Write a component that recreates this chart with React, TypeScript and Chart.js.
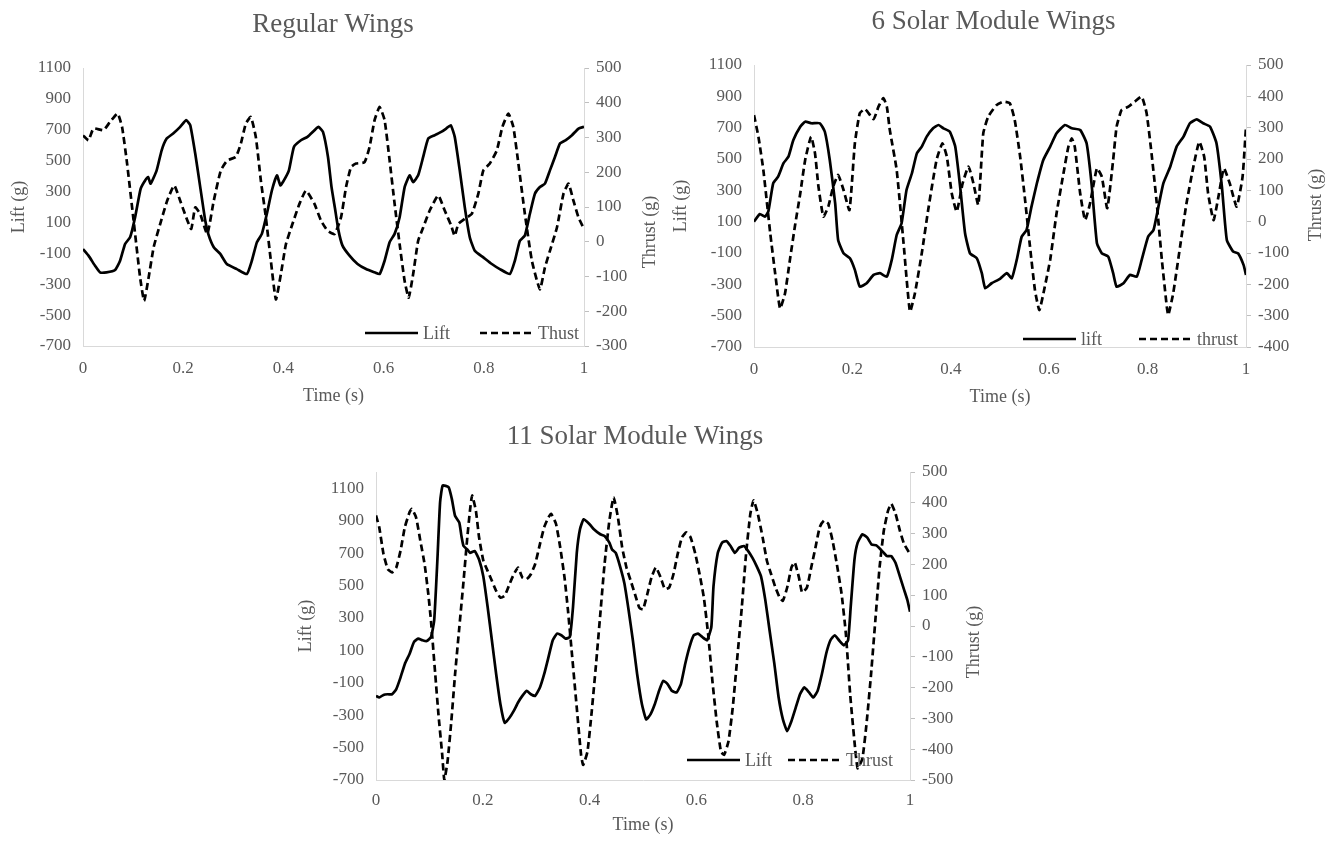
import { useEffect, useRef } from "react";
import { Chart, registerables } from "chart.js";

Chart.register(...registerables);

const FONT_FAMILY = '"Liberation Serif", "Times New Roman", Times, serif';
const TEXT_COLOR = "#595959";
const AXIS_COLOR = "#d9d9d9";
const TICK_MARK_COLOR = "#bfbfbf";
const TITLE_SIZE = 27;
const TICK_SIZE = 17;
const AXIS_TITLE_SIZE = 18;
const LEGEND_SIZE = 18;
const LEGEND_LINE = 53;

// ---------- axis ticks / labels ----------
const TIME_TICKS = [0, 0.2, 0.4, 0.6, 0.8, 1];
const TIME_TICK_LABELS = ["0", "0.2", "0.4", "0.6", "0.8", "1"];
const LIFT_TICKS = [-700, -500, -300, -100, 100, 300, 500, 700, 900, 1100];
const REG_THRUST_TICKS = [-300, -200, -100, 0, 100, 200, 300, 400, 500];
const SIX_THRUST_TICKS = [-400, -300, -200, -100, 0, 100, 200, 300, 400, 500];
const ELEVEN_THRUST_TICKS = [-500, -400, -300, -200, -100, 0, 100, 200, 300, 400, 500];

const CHART_TITLES = ["Regular Wings", "6 Solar Module Wings", "11 Solar Module Wings"];
const AXIS_TITLES = ["Time (s)", "Lift (g)", "Thrust (g)"];
const REG_LABELS = ["Lift", "Thust"];
const SIX_LABELS = ["lift", "thrust"];
const ELEVEN_LABELS = ["Lift", "Thrust"];

// ---------- Regular Wings ----------
const REG_LIFT_T = [0, 0.011, 0.024, 0.034, 0.047, 0.064, 0.074, 0.084, 0.094, 0.104, 0.115, 0.124, 0.13, 0.135, 0.147, 0.157, 0.167, 0.18, 0.194, 0.206, 0.214, 0.224, 0.234, 0.244, 0.25, 0.261, 0.274, 0.287, 0.307, 0.327, 0.337, 0.347, 0.357, 0.367, 0.377, 0.387, 0.394, 0.401, 0.411, 0.421, 0.435, 0.448, 0.462, 0.47, 0.479, 0.489, 0.496, 0.503, 0.51, 0.518, 0.532, 0.548, 0.565, 0.582, 0.592, 0.602, 0.612, 0.622, 0.632, 0.642, 0.652, 0.659, 0.669, 0.679, 0.689, 0.702, 0.715, 0.725, 0.734, 0.742, 0.752, 0.762, 0.772, 0.782, 0.799, 0.816, 0.832, 0.852, 0.862, 0.872, 0.882, 0.892, 0.902, 0.912, 0.922, 0.932, 0.942, 0.952, 0.963, 0.976, 0.989, 1.0];
const REG_LIFT = [-72, -115, -180, -223, -223, -208, -148, -39, 4, 134, 318, 372, 394, 351, 437, 567, 643, 676, 719, 762, 730, 546, 329, 112, 26, -61, -104, -169, -202, -234, -148, -29, 26, 156, 307, 405, 340, 372, 437, 589, 632, 654, 697, 719, 686, 524, 330, 190, 47, -50, -115, -169, -202, -223, -234, -148, -28, 26, 134, 329, 405, 361, 405, 524, 643, 665, 686, 708, 730, 654, 437, 199, 4, -83, -126, -169, -202, -234, -148, -18, 15, 156, 286, 329, 351, 437, 524, 611, 632, 665, 708, 719];
const REG_THRUST_T = [0, 0.011, 0.021, 0.041, 0.054, 0.069, 0.078, 0.088, 0.101, 0.114, 0.122, 0.131, 0.141, 0.154, 0.168, 0.182, 0.194, 0.206, 0.216, 0.224, 0.234, 0.248, 0.261, 0.275, 0.288, 0.305, 0.315, 0.325, 0.335, 0.345, 0.355, 0.365, 0.375, 0.385, 0.395, 0.405, 0.418, 0.432, 0.445, 0.462, 0.475, 0.488, 0.502, 0.515, 0.525, 0.535, 0.545, 0.562, 0.572, 0.582, 0.592, 0.602, 0.612, 0.622, 0.632, 0.642, 0.65, 0.659, 0.669, 0.679, 0.692, 0.709, 0.722, 0.735, 0.742, 0.749, 0.762, 0.776, 0.789, 0.799, 0.812, 0.826, 0.837, 0.849, 0.859, 0.869, 0.882, 0.896, 0.912, 0.922, 0.932, 0.946, 0.959, 0.969, 0.979, 0.989, 1.0];
const REG_THRUST = [306, 292, 326, 321, 345, 369, 330, 225, 61, -103, -170, -103, -16, 51, 118, 162, 118, 70, 37, 99, 80, 22, 118, 205, 234, 244, 282, 340, 359, 301, 176, 70, -55, -166, -93, -7, 51, 109, 147, 109, 61, 32, 22, 70, 157, 215, 225, 229, 273, 350, 388, 350, 234, 109, -7, -113, -161, -93, 3, 41, 90, 133, 90, 46, 17, 51, 66, 80, 138, 205, 225, 263, 330, 369, 330, 225, 80, -55, -137, -74, -26, 41, 138, 167, 118, 70, 37];

// ---------- 6 Solar Module Wings ----------
const SIX_LIFT_T = [0, 0.012, 0.022, 0.029, 0.039, 0.049, 0.06, 0.07, 0.08, 0.094, 0.104, 0.117, 0.134, 0.144, 0.154, 0.165, 0.171, 0.182, 0.195, 0.205, 0.215, 0.229, 0.243, 0.256, 0.27, 0.28, 0.29, 0.3, 0.31, 0.321, 0.331, 0.341, 0.351, 0.364, 0.375, 0.385, 0.398, 0.409, 0.419, 0.429, 0.439, 0.453, 0.463, 0.47, 0.483, 0.5, 0.514, 0.524, 0.534, 0.544, 0.554, 0.564, 0.575, 0.588, 0.602, 0.615, 0.632, 0.646, 0.663, 0.676, 0.686, 0.697, 0.707, 0.72, 0.73, 0.737, 0.751, 0.764, 0.778, 0.788, 0.801, 0.812, 0.822, 0.832, 0.846, 0.859, 0.873, 0.886, 0.9, 0.913, 0.927, 0.94, 0.951, 0.961, 0.974, 0.984, 0.995, 1.0];
const SIX_LIFT = [100, 149, 132, 164, 345, 387, 473, 515, 621, 706, 738, 728, 728, 674, 494, 217, -17, -102, -134, -208, -315, -293, -240, -229, -251, -144, 15, 90, 302, 409, 536, 579, 643, 696, 717, 696, 674, 579, 323, 26, -102, -134, -229, -325, -293, -265, -229, -261, -144, 4, 47, 196, 345, 494, 579, 664, 717, 696, 685, 600, 345, -38, -102, -123, -229, -315, -293, -240, -251, -144, 4, 47, 196, 345, 451, 579, 643, 728, 753, 728, 706, 600, 323, -17, -91, -102, -176, -240];
const SIX_THRUST_T = [0, 0.009, 0.019, 0.033, 0.043, 0.053, 0.063, 0.073, 0.083, 0.094, 0.104, 0.116, 0.124, 0.131, 0.141, 0.151, 0.161, 0.171, 0.182, 0.194, 0.205, 0.215, 0.226, 0.243, 0.253, 0.263, 0.27, 0.276, 0.29, 0.304, 0.317, 0.327, 0.341, 0.354, 0.371, 0.383, 0.392, 0.402, 0.412, 0.424, 0.436, 0.446, 0.456, 0.466, 0.476, 0.493, 0.507, 0.52, 0.53, 0.541, 0.551, 0.561, 0.571, 0.58, 0.591, 0.602, 0.615, 0.629, 0.639, 0.646, 0.652, 0.663, 0.673, 0.683, 0.697, 0.707, 0.718, 0.73, 0.737, 0.747, 0.761, 0.774, 0.788, 0.798, 0.808, 0.818, 0.829, 0.839, 0.842, 0.852, 0.866, 0.879, 0.893, 0.905, 0.915, 0.923, 0.934, 0.944, 0.955, 0.967, 0.981, 0.993, 1.0];
const SIX_THRUST = [340, 271, 165, -37, -165, -277, -229, -122, -16, 90, 197, 271, 218, 112, 16, 48, 112, 149, 101, 37, 250, 346, 359, 327, 367, 394, 367, 293, 165, -69, -287, -229, -101, 37, 197, 250, 207, 90, 32, 122, 176, 122, 53, 282, 335, 372, 383, 378, 324, 207, 69, -80, -218, -282, -208, -122, 27, 154, 239, 266, 239, 90, 5, 58, 170, 143, 43, 197, 303, 356, 367, 383, 399, 346, 218, 69, -122, -271, -298, -229, -80, 58, 175, 255, 207, 90, 5, 80, 170, 122, 48, 143, 303];

// ---------- 11 Solar Module Wings ----------
const ELEVEN_LIFT_T = [0, 0.006, 0.014, 0.022, 0.03, 0.038, 0.046, 0.054, 0.063, 0.071, 0.079, 0.087, 0.095, 0.103, 0.109, 0.115, 0.12, 0.125, 0.136, 0.142, 0.148, 0.156, 0.16, 0.164, 0.171, 0.176, 0.185, 0.193, 0.201, 0.209, 0.217, 0.225, 0.233, 0.241, 0.25, 0.258, 0.266, 0.274, 0.282, 0.29, 0.298, 0.307, 0.315, 0.323, 0.331, 0.339, 0.347, 0.355, 0.363, 0.369, 0.376, 0.382, 0.389, 0.4, 0.408, 0.42, 0.428, 0.437, 0.442, 0.449, 0.457, 0.465, 0.473, 0.481, 0.489, 0.498, 0.506, 0.514, 0.522, 0.53, 0.538, 0.546, 0.554, 0.563, 0.571, 0.579, 0.587, 0.595, 0.603, 0.611, 0.62, 0.628, 0.632, 0.64, 0.648, 0.656, 0.664, 0.672, 0.68, 0.689, 0.697, 0.705, 0.713, 0.721, 0.729, 0.737, 0.746, 0.754, 0.762, 0.77, 0.778, 0.786, 0.794, 0.802, 0.811, 0.819, 0.827, 0.835, 0.843, 0.851, 0.859, 0.867, 0.876, 0.884, 0.889, 0.896, 0.902, 0.911, 0.92, 0.928, 0.937, 0.945, 0.951, 0.957, 0.965, 0.973, 0.981, 0.989, 0.995, 1.0];
const ELEVEN_LIFT = [-181, -191, -175, -171, -171, -139, -67, 16, 79, 151, 172, 162, 157, 182, 286, 660, 1013, 1117, 1106, 1034, 930, 888, 805, 743, 722, 701, 712, 660, 556, 369, 162, -46, -233, -347, -316, -274, -222, -181, -150, -171, -181, -129, -46, 58, 162, 203, 193, 172, 182, 369, 701, 847, 909, 878, 847, 816, 805, 764, 722, 701, 618, 515, 349, 162, -46, -233, -326, -295, -233, -150, -88, -108, -150, -160, -108, 16, 120, 193, 203, 182, 162, 245, 494, 701, 764, 774, 743, 701, 733, 743, 712, 670, 618, 556, 411, 224, 16, -191, -326, -399, -337, -254, -171, -129, -160, -191, -150, -46, 79, 162, 193, 162, 131, 162, 369, 660, 764, 816, 795, 753, 747, 722, 701, 681, 681, 639, 556, 473, 411, 338];
const ELEVEN_THRUST_T = [0, 0.006, 0.014, 0.022, 0.03, 0.038, 0.046, 0.054, 0.063, 0.067, 0.075, 0.083, 0.091, 0.098, 0.103, 0.111, 0.117, 0.124, 0.128, 0.134, 0.141, 0.148, 0.156, 0.164, 0.171, 0.176, 0.18, 0.187, 0.193, 0.201, 0.209, 0.217, 0.225, 0.233, 0.241, 0.25, 0.258, 0.266, 0.274, 0.282, 0.29, 0.298, 0.307, 0.315, 0.323, 0.328, 0.337, 0.345, 0.353, 0.359, 0.367, 0.376, 0.384, 0.388, 0.396, 0.404, 0.412, 0.42, 0.428, 0.437, 0.445, 0.453, 0.461, 0.469, 0.477, 0.485, 0.493, 0.5, 0.508, 0.516, 0.524, 0.533, 0.541, 0.549, 0.557, 0.565, 0.573, 0.581, 0.589, 0.598, 0.606, 0.614, 0.622, 0.63, 0.638, 0.646, 0.652, 0.66, 0.668, 0.676, 0.685, 0.693, 0.701, 0.707, 0.715, 0.724, 0.732, 0.74, 0.748, 0.756, 0.762, 0.77, 0.778, 0.784, 0.792, 0.798, 0.807, 0.815, 0.823, 0.831, 0.839, 0.847, 0.855, 0.863, 0.872, 0.88, 0.888, 0.896, 0.902, 0.911, 0.919, 0.927, 0.935, 0.943, 0.951, 0.959, 0.965, 0.973, 0.981, 0.989, 1.0];
const ELEVEN_THRUST = [359, 321, 234, 185, 174, 190, 245, 321, 370, 380, 353, 277, 201, 103, 16, -158, -288, -418, -500, -440, -310, -158, -5, 147, 288, 375, 424, 375, 288, 212, 179, 147, 114, 92, 98, 136, 168, 190, 158, 152, 168, 201, 266, 321, 353, 364, 332, 255, 158, 60, -92, -266, -418, -451, -408, -277, -125, 38, 201, 342, 418, 353, 255, 190, 147, 103, 60, 54, 103, 158, 190, 158, 120, 125, 168, 234, 288, 304, 288, 234, 168, 92, -27, -179, -310, -408, -418, -375, -266, -114, 60, 234, 364, 408, 364, 288, 212, 168, 125, 92, 82, 125, 190, 207, 158, 109, 125, 190, 255, 321, 342, 332, 277, 201, 103, -27, -223, -375, -462, -429, -310, -158, 16, 190, 310, 375, 397, 364, 310, 266, 234];

type Spec = {
  key: string;
  title: string;
  labels: string[];
  liftT: number[];
  lift: number[];
  thrustT: number[];
  thrust: number[];
  liftMax: number;
  thrustTicks: number[];
  left: number;
  top: number;
  width: number;
  height: number;
  area: { left: number; right: number; top: number; bottom: number };
  titleY: number;
  liftTitleX: number;
  thrustTitleX: number;
  thrustTitleY: number;
  timeTitleY: number;
  xLabelPad: number;
  legendX: number[];
  legendY: number;
};

const SPECS: Spec[] = [
  {
    key: "reg",
    title: CHART_TITLES[0],
    labels: REG_LABELS,
    liftT: REG_LIFT_T,
    lift: REG_LIFT,
    thrustT: REG_THRUST_T,
    thrust: REG_THRUST,
    liftMax: 1100,
    thrustTicks: REG_THRUST_TICKS,
    left: 0,
    top: 0,
    width: 666,
    height: 420,
    area: { left: 83, right: 584, top: 68, bottom: 346 },
    titleY: 25,
    liftTitleX: 19,
    thrustTitleX: 650,
    thrustTitleY: 232,
    timeTitleY: 396,
    xLabelPad: 12,
    legendX: [365, 480],
    legendY: 333,
  },
  {
    key: "six",
    title: CHART_TITLES[1],
    labels: SIX_LABELS,
    liftT: SIX_LIFT_T,
    lift: SIX_LIFT,
    thrustT: SIX_THRUST_T,
    thrust: SIX_THRUST,
    liftMax: 1100,
    thrustTicks: SIX_THRUST_TICKS,
    left: 655,
    top: 0,
    width: 677,
    height: 420,
    area: { left: 99, right: 591, top: 65, bottom: 347 },
    titleY: 22,
    liftTitleX: 26,
    thrustTitleX: 661,
    thrustTitleY: 205,
    timeTitleY: 397,
    xLabelPad: 12,
    legendX: [368, 484],
    legendY: 339,
  },
  {
    key: "eleven",
    title: CHART_TITLES[2],
    labels: ELEVEN_LABELS,
    liftT: ELEVEN_LIFT_T,
    lift: ELEVEN_LIFT,
    thrustT: ELEVEN_THRUST_T,
    thrust: ELEVEN_THRUST,
    liftMax: 1200,
    thrustTicks: ELEVEN_THRUST_TICKS,
    left: 270,
    top: 420,
    width: 730,
    height: 421,
    area: { left: 106, right: 640, top: 52, bottom: 360 },
    titleY: 17,
    liftTitleX: 36,
    thrustTitleX: 704,
    thrustTitleY: 222,
    timeTitleY: 405,
    xLabelPad: 10,
    legendX: [417, 518],
    legendY: 340,
  },
];

function zip(ts: number[], vs: number[]) {
  const n = Math.min(ts.length, vs.length);
  const out: { x: number; y: number }[] = [];
  for (let i = 0; i < n; i++) out.push({ x: ts[i], y: vs[i] });
  return out;
}

// Legend drawn inside the plot area + right-hand axis title reading bottom-to-top
function overlayPlugin(spec: Spec) {
  return {
    id: "wingOverlay",
    afterDatasetsDraw(chart: any) {
      const ctx = chart.ctx as CanvasRenderingContext2D;
      ctx.save();
      ctx.font = `${LEGEND_SIZE}px ${FONT_FAMILY}`;
      ctx.fillStyle = TEXT_COLOR;
      ctx.textBaseline = "middle";
      ctx.textAlign = "left";
      chart.data.datasets.forEach((ds: any, i: number) => {
        const x0 = spec.legendX[i];
        ctx.beginPath();
        ctx.setLineDash(ds.borderDash || []);
        ctx.lineWidth = ds.borderWidth;
        ctx.strokeStyle = ds.borderColor;
        ctx.moveTo(x0, spec.legendY);
        ctx.lineTo(x0 + LEGEND_LINE, spec.legendY);
        ctx.stroke();
        ctx.setLineDash([]);
        ctx.fillText(ds.label, x0 + LEGEND_LINE + 5, spec.legendY + 1);
      });
      ctx.restore();
    },
    afterDraw(chart: any) {
      const ctx = chart.ctx as CanvasRenderingContext2D;
      ctx.save();
      ctx.font = `${AXIS_TITLE_SIZE}px ${FONT_FAMILY}`;
      ctx.fillStyle = TEXT_COLOR;
      ctx.textAlign = "center";
      ctx.textBaseline = "middle";
      ctx.translate(spec.thrustTitleX, spec.thrustTitleY);
      ctx.rotate(-Math.PI / 2);
      ctx.fillText(AXIS_TITLES[2], 0, 0);
      ctx.restore();
    },
  };
}

const plainLabel = (v: any) => String(v);

function makeConfig(s: Spec): any {
  const titleLH = TITLE_SIZE * 1.2;
  const titlePadTop = s.titleY - titleLH / 2;
  const titlePadBottom = s.area.top - titlePadTop - titleLH;
  const axisLH = AXIS_TITLE_SIZE * 1.2;
  const tickFont = { family: FONT_FAMILY, size: TICK_SIZE };
  const axisTitleFont = { family: FONT_FAMILY, size: AXIS_TITLE_SIZE };
  const thrustMin = s.thrustTicks[0];
  const thrustMax = s.thrustTicks[s.thrustTicks.length - 1];
  return {
    type: "line",
    data: {
      datasets: [
        {
          label: s.labels[0],
          data: zip(s.liftT, s.lift),
          yAxisID: "y",
          borderColor: "#000000",
          borderWidth: 2.7,
          borderJoinStyle: "round",
          pointRadius: 0,
          fill: false,
          tension: 0.15,
        },
        {
          label: s.labels[1],
          data: zip(s.thrustT, s.thrust),
          yAxisID: "y1",
          borderColor: "#000000",
          borderWidth: 2.7,
          borderDash: [7, 4],
          borderJoinStyle: "round",
          pointRadius: 0,
          fill: false,
          tension: 0.15,
        },
      ],
    },
    options: {
      responsive: false,
      animation: false,
      devicePixelRatio: 1,
      events: [],
      layout: { padding: 0 },
      plugins: {
        legend: { display: false },
        tooltip: { enabled: false },
        title: {
          display: true,
          text: s.title,
          color: TEXT_COLOR,
          font: { family: FONT_FAMILY, size: TITLE_SIZE, weight: "normal", lineHeight: 1.2 },
          padding: { top: titlePadTop, bottom: titlePadBottom },
        },
      },
      scales: {
        x: {
          type: "linear",
          position: "bottom",
          min: 0,
          max: 1,
          afterBuildTicks: (ax: any) => {
            ax.ticks = TIME_TICKS.map((v) => ({ value: v }));
          },
          afterFit: (ax: any) => {
            ax.height = s.height - s.area.bottom;
          },
          ticks: {
            autoSkip: false,
            maxRotation: 0,
            color: TEXT_COLOR,
            font: tickFont,
            padding: s.xLabelPad,
            callback: (_v: any, i: number) => TIME_TICK_LABELS[i],
          },
          grid: { display: false, drawTicks: false },
          border: { display: true, color: AXIS_COLOR, width: 1 },
          title: {
            display: true,
            text: AXIS_TITLES[0],
            color: TEXT_COLOR,
            font: axisTitleFont,
            padding: { top: 0, bottom: s.height - s.timeTitleY - axisLH / 2 },
          },
        },
        y: {
          type: "linear",
          position: "left",
          min: -700,
          max: s.liftMax,
          afterBuildTicks: (ax: any) => {
            ax.ticks = LIFT_TICKS.map((v) => ({ value: v }));
          },
          afterFit: (ax: any) => {
            ax.width = s.area.left;
          },
          ticks: { autoSkip: false, color: TEXT_COLOR, font: tickFont, padding: 12, callback: plainLabel },
          grid: { display: false, drawTicks: false },
          border: { display: true, color: AXIS_COLOR, width: 1 },
          title: {
            display: true,
            text: AXIS_TITLES[1],
            color: TEXT_COLOR,
            font: axisTitleFont,
            padding: { top: s.liftTitleX - axisLH / 2, bottom: 0 },
          },
        },
        y1: {
          type: "linear",
          position: "right",
          min: thrustMin,
          max: thrustMax,
          afterBuildTicks: (ax: any) => {
            ax.ticks = s.thrustTicks.map((v) => ({ value: v }));
          },
          afterFit: (ax: any) => {
            ax.width = s.width - s.area.right;
          },
          ticks: { autoSkip: false, color: TEXT_COLOR, font: tickFont, padding: 7, callback: plainLabel },
          grid: {
            display: true,
            drawOnChartArea: false,
            drawTicks: true,
            tickLength: 5,
            color: AXIS_COLOR,
            tickColor: TICK_MARK_COLOR,
          },
          border: { display: true, color: AXIS_COLOR, width: 1 },
          title: { display: false },
        },
      },
    },
    plugins: [overlayPlugin(s)],
  };
}

function WingChart({ spec }: { spec: Spec }) {
  const ref = useRef<HTMLCanvasElement | null>(null);
  useEffect(() => {
    if (!ref.current) return;
    const chart = new Chart(ref.current, makeConfig(spec));
    return () => chart.destroy();
  }, [spec]);
  return (
    <canvas
      ref={ref}
      width={spec.width}
      height={spec.height}
      style={{
        position: "absolute",
        left: spec.left,
        top: spec.top,
        width: spec.width,
        height: spec.height,
      }}
    />
  );
}

export default function App() {
  return (
    <div
      style={{
        position: "absolute",
        left: 0,
        top: 0,
        width: 1332,
        height: 841,
        background: "#ffffff",
        overflow: "hidden",
      }}
    >
      {SPECS.map((s) => (
        <WingChart key={s.key} spec={s} />
      ))}
    </div>
  );
}
